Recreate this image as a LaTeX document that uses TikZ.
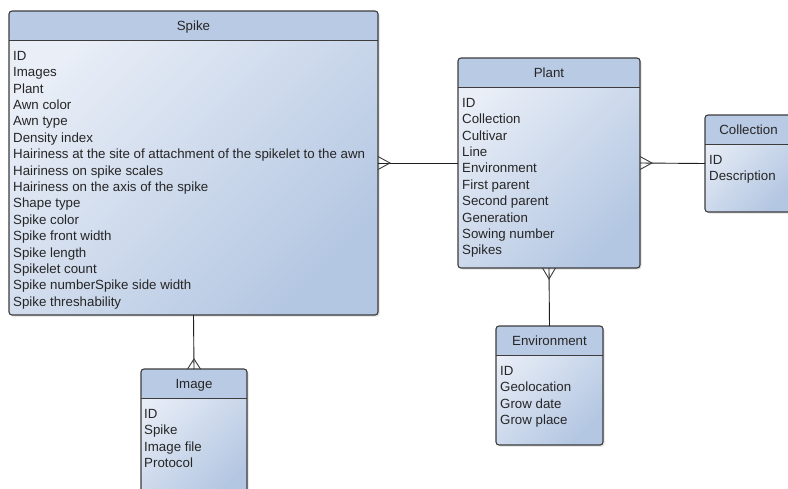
\documentclass[tikz,border=0pt]{standalone}
\usepackage{fontspec}
\setmainfont{Liberation Sans}
\usetikzlibrary{shadows}
\definecolor{bordercol}{HTML}{3C3C3C}
\definecolor{headcol}{HTML}{B9CAE4}
\definecolor{bodylight}{HTML}{E9EEF7}
\definecolor{bodydark}{HTML}{B4C7E2}
\definecolor{linecol}{HTML}{1E1E1E}
\newcommand{\entfont}{\fontsize{13.3}{16.4}\selectfont}
\tikzset{
  entity/.style={draw=bordercol, line width=1.1pt, rounded corners=3pt,
    inner sep=0pt, outer sep=0pt, anchor=north west,
    left color=bodylight, right color=bodydark, shading angle=45,
    drop shadow={shadow xshift=1.5pt, shadow yshift=-1.5pt, opacity=0.25},
    path picture={
      \fill[headcol] (path picture bounding box.north west) rectangle ([yshift=-29.5pt]path picture bounding box.north east);
      \draw[bordercol, line width=1.1pt] ([yshift=-29.5pt]path picture bounding box.north west) -- ([yshift=-29.5pt]path picture bounding box.north east);
    }},
  etitle/.style={font=\entfont, text=black!85, inner sep=0pt, text height=9.5pt, text depth=0pt, anchor=center},
  ebody/.style={font=\entfont, text=black!85, inner sep=0pt, align=left, anchor=north west},
  rel/.style={draw=linecol, line width=0.9pt},
  crow/.style={draw=bordercol, line width=0.9pt}
}
\begin{document}
\begin{tikzpicture}[x=1pt, y=-1pt]
\useasboundingbox (0,0) rectangle (788,488);
\clip (0,0) rectangle (788,488);
\fill[white] (0,0) rectangle (788,488);

% entities
\node[entity, minimum width=369pt, minimum height=304pt] (spike) at (9,11) {};
\node[entity, minimum width=182pt, minimum height=210pt] (plant) at (458,58) {};
\node[entity, minimum width=87pt, minimum height=97pt] (collection) at (705,115) {};
\node[entity, minimum width=107pt, minimum height=119pt] (environment) at (496,326) {};
\node[entity, minimum width=106pt, minimum height=130pt] (image) at (141,369) {};

% titles
\node[etitle] (spike-t) at ([yshift=-14.75pt]spike.north) {Spike};
\node[etitle] (plant-t) at ([yshift=-14.75pt]plant.north) {Plant};
\node[etitle] (collection-t) at ([yshift=-14.75pt]collection.north) {Collection};
\node[etitle] (environment-t) at ([yshift=-14.75pt]environment.north) {Environment};
\node[etitle] (image-t) at ([yshift=-14.75pt]image.north) {Image};

% bodies
\node[ebody] (spike-b) at ([xshift=4pt,yshift=-37.7pt]spike.north west) {\strut ID\\Images\\Plant\\Awn color\\Awn type\\Density index\\Hairiness at the site of attachment of the spikelet to the awn\\Hairiness on spike scales\\Hairiness on the axis of the spike\\Shape type\\Spike color\\Spike front width\\Spike length\\Spikelet count\\Spike numberSpike side width\\Spike threshability};
\node[ebody] (plant-b) at ([xshift=4pt,yshift=-37.7pt]plant.north west) {\strut ID\\Collection\\Cultivar\\Line\\Environment\\First parent\\Second parent\\Generation\\Sowing number\\Spikes};
\node[ebody] (collection-b) at ([xshift=4pt,yshift=-37.7pt]collection.north west) {\strut ID\\Description};
\node[ebody] (environment-b) at ([xshift=4pt,yshift=-37.7pt]environment.north west) {\strut ID\\Geolocation\\Grow date\\Grow place};
\node[ebody] (image-b) at ([xshift=3pt,yshift=-37.7pt]image.north west) {\strut ID\\Spike\\Image file\\Protocol};

% relations
\draw[rel] (spike.east) -- (plant.west);
\draw[rel] (plant.east) -- (collection.west);
\draw[rel] (spike.south) -- (image.north);
\draw[rel] (plant.south) -- (environment.north);

% crow's feet
\draw[crow] ([yshift=6.5pt]spike.east) -- ([xshift=12pt]spike.east) -- ([yshift=-6.5pt]spike.east);
\draw[crow] ([yshift=6.5pt]plant.east) -- ([xshift=12pt]plant.east) -- ([yshift=-6.5pt]plant.east);
\draw[crow] ([xshift=-6.5pt]plant.south) -- ([yshift=-11pt]plant.south) -- ([xshift=6.5pt]plant.south);
\draw[crow] ([xshift=-6.5pt]image.north) -- ([yshift=10pt]image.north) -- ([xshift=6.5pt]image.north);
\end{tikzpicture}
\end{document}
